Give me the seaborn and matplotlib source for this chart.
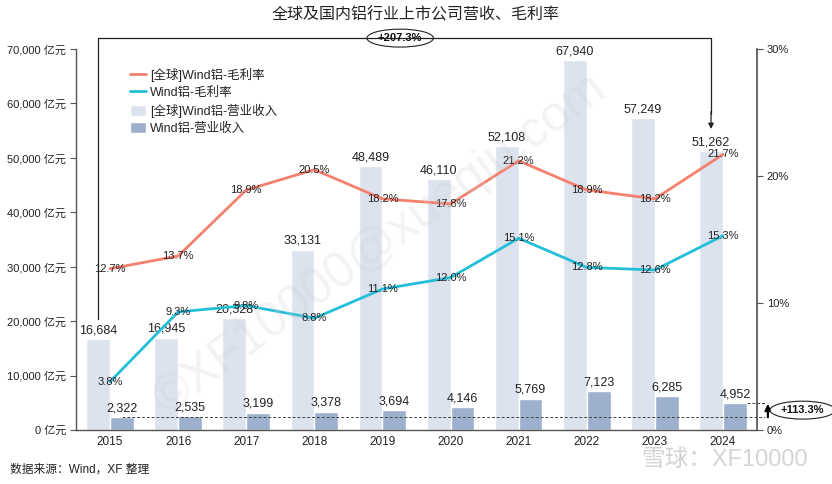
import numpy as np
import pandas as pd
import matplotlib
matplotlib.use('Agg')
import matplotlib.pyplot as plt
import seaborn as sns
from matplotlib.lines import Line2D
from matplotlib.patches import Patch
from matplotlib.ticker import FuncFormatter, MultipleLocator

# ── data ──
years = ['2015', '2016', '2017', '2018', '2019', '2020', '2021', '2022', '2023', '2024']
global_rev = [16684, 16945, 20528, 33131, 48489, 46110, 52108, 67940, 57249, 51262]
wind_rev = [2322, 2535, 3199, 3378, 3694, 4146, 5769, 7123, 6285, 4952]
global_margin = [12.7, 13.7, 18.9, 20.5, 18.2, 17.8, 21.2, 18.9, 18.2, 21.7]
wind_margin = [3.8, 9.3, 9.8, 8.8, 11.1, 12.0, 15.1, 12.8, 12.6, 15.3]

series_names = ['[全球]Wind铝-营业收入', 'Wind铝-营业收入']
line_names = ['[全球]Wind铝-毛利率', 'Wind铝-毛利率']
growth_global = '+207.3%'
growth_wind = '+113.3%'

c_global_bar = '#DCE3EE'
c_wind_bar = '#9DB0CE'
c_global_line = '#F4806E'
c_wind_line = '#22BFD9'

sns.set_theme(style='white')
plt.rcParams['font.family'] = ['Liberation Sans', 'Noto Sans CJK SC', 'DejaVu Sans']
plt.rcParams['axes.unicode_minus'] = False

rev_df = pd.DataFrame({'year': years, series_names[0]: global_rev, series_names[1]: wind_rev})
rev_df = rev_df.melt(id_vars='year', var_name='series', value_name='rev')

fig = plt.figure(figsize=(8.32, 4.84), dpi=100)
ax = fig.add_axes([76 / 832, 1 - 430 / 484, (757 - 76) / 832, (430 - 49) / 484])

sns.barplot(data=rev_df, x='year', y='rev', hue='series', hue_order=series_names,
            palette=[c_global_bar, c_wind_bar], width=0.7, saturation=1,
            legend=False, ax=ax, zorder=2)
ax.set_xlim(-0.5, len(years) - 0.5)
ax.set_ylim(0, 70000)
ax.yaxis.set_major_locator(MultipleLocator(10000))
ax.yaxis.set_major_formatter(FuncFormatter(lambda v, p: f'{v:,.0f} 亿元'))
ax.set_xlabel('')
ax.set_ylabel('')
for s in ['top', 'right']:
    ax.spines[s].set_visible(False)
for s in ['left', 'bottom']:
    ax.spines[s].set_color('#555555')
    ax.spines[s].set_linewidth(1.0)
ax.tick_params(axis='y', left=True, length=4, width=0.8, color='#555555',
               labelsize=8, labelcolor='#222222', pad=3)
ax.tick_params(axis='x', bottom=False, length=0, labelsize=8.5, labelcolor='#222222', pad=4)

for cont in ax.containers:
    ax.bar_label(cont, labels=[f'{b.get_height():,.0f}' for b in cont],
                 padding=2, fontsize=9, color='#222222')

# ── margin lines on right axis ──
ax2 = ax.twinx()
sns.lineplot(x=years, y=global_margin, ax=ax2, color=c_global_line, linewidth=2, sort=False)
sns.lineplot(x=years, y=wind_margin, ax=ax2, color=c_wind_line, linewidth=2, sort=False)
ax2.set_ylim(0, 30)
ax2.yaxis.set_major_locator(MultipleLocator(10))
ax2.yaxis.set_major_formatter(FuncFormatter(lambda v, p: f'{v:.0f}%'))
ax2.set_ylabel('')
for s in ['top', 'left', 'bottom']:
    ax2.spines[s].set_visible(False)
ax2.spines['right'].set_color('#555555')
ax2.tick_params(axis='y', right=True, length=4, width=0.8, color='#555555',
                labelsize=8, labelcolor='#222222', pad=3)

for i, (g, w) in enumerate(zip(global_margin, wind_margin)):
    ax2.annotate(f'{g:.1f}%', xy=(i, g), xycoords=ax2.transData, ha='center', va='center',
                 fontsize=8, color='#222222', zorder=5)
    ax2.annotate(f'{w:.1f}%', xy=(i, w), xycoords=ax2.transData, ha='center', va='center',
                 fontsize=8, color='#222222', zorder=5)

# ── legend ──
handles = [Line2D([0], [0], color=c_global_line, lw=2),
           Line2D([0], [0], color=c_wind_line, lw=2),
           Patch(facecolor=c_global_bar),
           Patch(facecolor=c_wind_bar)]
labels = [line_names[0], line_names[1], series_names[0], series_names[1]]
fig.legend(handles, labels, loc='upper left', bbox_to_anchor=(125 / 832, 1 - 63 / 484),
           bbox_transform=fig.transFigure, frameon=False, fontsize=9,
           handlelength=1.25, handleheight=1.0, labelspacing=0.35, handletextpad=0.35,
           borderaxespad=0)

# ── growth bracket global ──
n = len(years)
xl, xr = -0.175, n - 1 - 0.175
y_top = 72000
fig.add_artist(Line2D([xl, xl, xr, xr], [20400, y_top, y_top, 58000],
                      transform=ax.transData, color='#222222', lw=0.9))
ax.annotate('', xy=(xr, 55300), xycoords=ax.transData,
            xytext=(xr, 58500), textcoords=ax.transData,
            arrowprops=dict(arrowstyle='-|>', color='#222222', lw=0.9,
                            mutation_scale=8, shrinkA=0, shrinkB=0),
            annotation_clip=False)
ax.annotate(growth_global, xy=(4.26, y_top), xycoords=ax.transData, ha='center', va='center',
            fontsize=8, fontweight='bold', color='#111111', annotation_clip=False,
            bbox=dict(boxstyle='ellipse,pad=0.12', fc='white', ec='#222222', lw=0.8),
            zorder=6)

# ── growth marker domestic ──
x_end = 9.62
fig.add_artist(Line2D([0.175, x_end], [wind_rev[0], wind_rev[0]], transform=ax.transData,
                      color='#444444', lw=0.7, ls=(0, (3, 2))))
fig.add_artist(Line2D([n - 1 + 0.35, x_end], [wind_rev[-1], wind_rev[-1]], transform=ax.transData,
                      color='#444444', lw=0.7, ls=(0, (3, 2))))
ax.annotate('', xy=(9.66, wind_rev[-1] - 150), xycoords=ax.transData,
            xytext=(9.66, wind_rev[0]), textcoords=ax.transData,
            arrowprops=dict(arrowstyle='-|>', color='black', lw=1.5,
                            mutation_scale=9, shrinkA=0, shrinkB=0),
            annotation_clip=False)
ax.annotate(growth_wind, xy=(10.17, 3650), xycoords=ax.transData, ha='center', va='center',
            fontsize=8, fontweight='bold', color='#111111', annotation_clip=False,
            bbox=dict(boxstyle='ellipse,pad=0.12', fc='white', ec='#222222', lw=0.8),
            zorder=6)

# ── texts ──
fig.text(416 / 832, 1 - 15 / 484, '全球及国内铝行业上市公司营收、毛利率', ha='center', va='center',
         fontsize=11.5, color='#222222', family=['Noto Sans CJK SC', 'DejaVu Sans'])
fig.text(10 / 832, 1 - 470 / 484, '数据来源：Wind，XF 整理', ha='left', va='center',
         fontsize=8.5, color='#222222')
fig.text(380 / 832, 1 - 245 / 484, '©XF10000@xueqiu.com', ha='center', va='center',
         rotation=36, fontsize=36, color='#D0D0D0', alpha=0.25, zorder=10)
fig.text(808 / 832, 1 - 460 / 484, '雪球：XF10000', ha='right', va='center',
         fontsize=17, color='#D4D4D4', zorder=10)

fig.savefig('out.png', dpi=100)
